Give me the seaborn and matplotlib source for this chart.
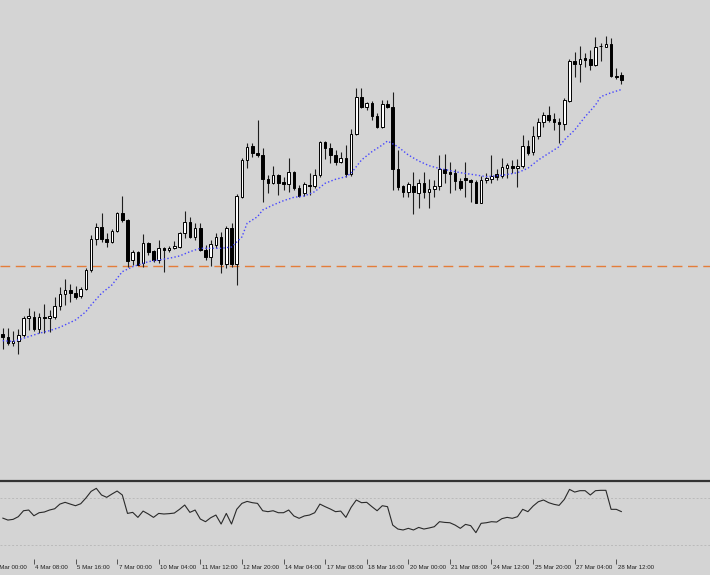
import seaborn as sns
import matplotlib.pyplot as plt
import numpy as np
import pandas as pd
from matplotlib.transforms import ScaledTranslation

# H4 candles, 3 Mar - 28 Mar (price scale is cut off in the original)
opens = [166.0, 163.3, 157.0, 158.5, 164.7, 181.5, 183.3, 170.7, 182.7, 181.5,
         183.0, 194.0, 205.7, 210.0, 206.7, 204.0, 210.7, 230.0, 260.7, 272.7,
         260.7, 257.7, 268.7, 287.3, 280.0, 240.0, 248.3, 237.3, 257.3, 249.0,
         240.0, 251.7, 250.0, 251.7, 253.3, 266.7, 277.7, 263.3, 271.7, 250.0,
         242.7, 255.0, 263.3, 236.0, 271.7, 236.0, 303.3, 340.0, 354.0, 347.3,
         345.0, 320.7, 316.7, 325.0, 318.3, 316.0, 328.3, 311.7, 306.7, 315.0,
         314.0, 325.0, 357.7, 351.7, 345.0, 338.3, 341.7, 325.7, 365.7, 403.3,
         393.3, 396.7, 384.3, 373.0, 396.0, 393.3, 330.7, 313.5, 308.0, 314.0,
         307.3, 317.3, 308.3, 310.7, 314.3, 330.7, 328.3, 326.7, 319.3, 321.7,
         320.0, 318.3, 297.3, 319.7, 320.7, 325.7, 323.5, 331.7, 334.0, 331.7,
         333.7, 354.0, 347.7, 363.7, 378.3, 385.0, 380.7, 378.3, 376.0, 399.3,
         439.3, 435.7, 441.7, 440.7, 435.0, 453.7, 453.3, 456.0, 423.7, 425.0]
highs = [172.0, 172.0, 169.0, 171.0, 183.5, 191.5, 189.0, 186.5, 196.0, 190.0,
         203.3, 213.0, 220.7, 216.0, 214.0, 212.7, 232.0, 265.0, 277.0, 287.0,
         266.7, 271.0, 288.3, 304.0, 280.7, 250.0, 249.0, 265.7, 258.3, 250.0,
         260.0, 253.3, 254.0, 259.3, 268.3, 289.3, 283.3, 276.7, 277.3, 255.0,
         260.0, 267.3, 268.0, 274.0, 276.7, 306.0, 342.0, 356.7, 356.7, 380.0,
         351.7, 325.0, 334.0, 326.0, 323.3, 341.7, 329.0, 315.0, 318.3, 327.3,
         330.7, 359.3, 359.3, 356.7, 350.0, 348.3, 355.0, 370.7, 412.3, 411.7,
         398.3, 399.0, 386.7, 400.0, 400.0, 408.3, 350.0, 315.0, 318.3, 327.7,
         320.7, 327.7, 320.7, 320.0, 345.0, 345.7, 338.3, 330.7, 322.0, 338.3,
         321.0, 320.0, 324.0, 326.7, 345.0, 330.7, 341.7, 336.7, 340.0, 340.7,
         365.0, 360.0, 374.0, 381.7, 388.3, 394.0, 387.3, 381.7, 401.7, 440.7,
         448.3, 454.0, 447.3, 450.0, 462.7, 456.7, 464.0, 462.0, 431.7, 428.3]
lows = [151.0, 155.0, 154.0, 146.0, 163.0, 170.0, 169.0, 167.0, 167.0, 168.0,
        181.0, 190.0, 195.0, 198.3, 201.3, 202.0, 210.0, 228.3, 255.0, 258.3,
        253.3, 256.7, 267.7, 278.3, 232.7, 235.0, 234.7, 232.7, 245.0, 238.3,
        236.7, 228.3, 248.0, 251.0, 251.7, 261.7, 262.0, 260.0, 249.3, 240.0,
        234.0, 251.7, 227.0, 232.0, 233.3, 215.0, 302.0, 331.7, 343.3, 343.0,
        298.3, 307.3, 316.0, 305.0, 310.0, 308.3, 310.0, 302.7, 304.0, 305.0,
        311.7, 323.3, 340.7, 336.7, 335.0, 336.7, 323.3, 324.3, 365.0, 392.0,
        390.0, 380.0, 371.7, 372.0, 392.0, 310.0, 310.0, 303.3, 303.3, 286.0,
        291.7, 301.7, 291.7, 303.3, 310.0, 316.7, 307.3, 310.0, 310.0, 303.3,
        298.3, 296.5, 296.7, 316.7, 316.7, 320.0, 322.0, 322.0, 326.7, 313.0,
        331.7, 345.0, 345.0, 360.7, 373.0, 378.0, 370.0, 356.7, 370.0, 398.3,
        423.3, 418.3, 433.3, 430.0, 434.0, 439.3, 453.0, 423.0, 420.7, 416.0]
closes = [162.7, 157.0, 159.0, 164.7, 181.7, 183.7, 170.7, 182.7, 182.4, 184.0,
          194.0, 205.7, 210.0, 206.7, 203.3, 210.7, 230.0, 260.7, 272.7, 260.7,
          257.7, 268.7, 287.3, 280.0, 239.3, 248.3, 235.0, 257.3, 248.3, 240.0,
          251.7, 250.0, 251.7, 254.0, 266.7, 277.7, 263.3, 271.7, 250.0, 242.7,
          255.7, 263.3, 236.0, 271.7, 236.0, 304.0, 340.0, 353.3, 346.7, 345.0,
          320.7, 316.7, 325.0, 317.3, 316.0, 328.3, 311.7, 304.0, 316.0, 314.3,
          325.0, 357.7, 351.7, 345.0, 338.3, 342.3, 325.7, 365.7, 403.3, 393.3,
          396.7, 384.3, 373.0, 396.0, 393.3, 330.7, 313.3, 308.0, 315.7, 308.0,
          317.3, 307.7, 310.7, 314.3, 330.7, 327.3, 326.0, 319.3, 311.7, 319.7,
          318.3, 297.3, 320.0, 321.7, 324.3, 323.3, 332.7, 334.7, 331.7, 334.3,
          353.7, 347.3, 364.0, 377.7, 385.0, 379.7, 378.3, 376.0, 399.7, 439.3,
          435.7, 440.7, 440.0, 435.0, 452.7, 454.3, 456.0, 424.0, 423.3, 420.0]

# moving average (dotted blue)
ma_bars = [0, 2, 4, 7, 9, 11, 14, 16, 17, 19,
           21, 23, 25, 26, 28, 30, 32, 34, 36, 38,
           42, 44, 46, 47, 49, 50, 52, 54, 56, 58,
           60, 62, 64, 66, 67, 69, 71, 73, 74, 76,
           78, 80, 82, 84, 88, 91, 93, 96, 99, 101,
           103, 105, 107, 108, 110, 112, 114, 115, 117, 119]
ma_values = [159.3, 158.5, 161.7, 166.7, 169.3, 172.7, 180.0, 188.3, 195.0, 206.7,
             215.0, 228.3, 233.3, 235.0, 238.3, 240.0, 241.7, 244.0, 248.3, 251.7,
             251.7, 253.0, 263.0, 276.7, 283.3, 290.0, 295.0, 299.3, 302.7, 304.0,
             308.3, 316.7, 320.7, 323.3, 326.7, 340.0, 348.3, 355.0, 359.0, 353.3,
             345.0, 339.0, 334.3, 331.5, 327.3, 325.0, 323.3, 324.7, 327.3, 331.7,
             340.0, 346.7, 353.3, 360.0, 370.0, 383.3, 395.0, 403.3, 407.3, 410.5]

level = 234.0

# oscillator in the lower window
rsi = [53.1, 51.4, 52.0, 54.3, 59.4, 60.0, 55.1, 57.7, 58.3, 60.0,
       61.1, 65.1, 66.6, 65.1, 63.7, 65.4, 70.3, 76.0, 78.6, 72.9,
       70.9, 73.7, 76.3, 72.9, 57.1, 58.0, 53.7, 59.1, 56.6, 53.7,
       57.1, 56.6, 56.9, 57.4, 60.6, 64.3, 58.0, 60.0, 52.3, 50.0,
       53.4, 55.7, 48.0, 57.1, 48.0, 60.6, 65.7, 67.4, 66.3, 65.7,
       59.4, 58.6, 59.4, 57.7, 57.7, 60.0, 54.9, 52.9, 54.9, 55.7,
       57.7, 65.1, 62.9, 60.9, 58.6, 59.1, 53.7, 62.3, 68.6, 66.3,
       66.6, 62.9, 59.4, 63.7, 62.9, 47.1, 43.7, 42.9, 44.3, 42.9,
       45.1, 43.7, 44.6, 45.7, 50.0, 49.4, 49.1, 47.1, 44.3, 47.7,
       46.6, 40.6, 48.6, 49.1, 50.0, 49.7, 52.6, 53.7, 52.9, 54.3,
       60.6, 58.6, 63.4, 67.1, 68.6, 66.3, 64.9, 64.0, 69.1, 77.7,
       75.4, 76.6, 76.6, 72.9, 76.6, 76.9, 76.9, 60.6, 60.6, 58.6]
rsi_levels = [70, 30]

tick_bars = [-2, 6, 14, 22, 30, 38, 46, 54, 62, 70, 78, 86, 94, 102, 110, 118]
tick_labels = ['3 Mar 00:00', '4 Mar 08:00', '5 Mar 16:00', '7 Mar 00:00',
               '10 Mar 04:00', '11 Mar 12:00', '12 Mar 20:00', '14 Mar 04:00',
               '17 Mar 08:00', '18 Mar 16:00', '20 Mar 00:00', '21 Mar 08:00',
               '24 Mar 12:00', '25 Mar 20:00', '27 Mar 04:00', '28 Mar 12:00']

bg = '#d4d4d4'
sns.set_style("white", rc={"axes.facecolor": bg, "figure.facecolor": bg})
plt.rcParams['font.family'] = ['Liberation Sans', 'DejaVu Sans']

fig = plt.figure(figsize=(7.1, 5.75), dpi=100)
ax = fig.add_axes([0, 0.1670, 1, 0.8330])
ax2 = fig.add_axes([0, 0.0278, 1, 0.1365])

df = pd.DataFrame({'bar': np.arange(len(closes)), 'open': opens, 'high': highs,
                   'low': lows, 'close': closes})
up = df['close'] >= df['open']
body_lo = df[['open', 'close']].min(axis=1)
body_h = (df['close'] - df['open']).abs().clip(lower=0.5)

ax.vlines(df['bar'], df['low'], df['high'], color='#1e1e1e', lw=0.8, zorder=2)
ax.bar(df['bar'][up], body_h[up], bottom=body_lo[up], width=0.5,
       color='white', edgecolor='black', lw=0.7, zorder=3)
ax.bar(df['bar'][~up], body_h[~up], bottom=body_lo[~up], width=0.5,
       color='black', edgecolor='black', lw=0.7, zorder=3)

sns.lineplot(x=ma_bars, y=ma_values, ax=ax, color='#4646ff', lw=1.0,
             linestyle=(0, (1, 1.6)), zorder=4)
ax.axhline(level, color='#e47d3a', lw=1.0, dashes=(7, 4), zorder=1)

ax.set_xlim(-0.52, 136.02)
ax.set_ylim(21, 500)
ax.set_xticks([])
ax.set_yticks([])
ax.set_xlabel('')
ax.set_ylabel('')
for s in ax.spines.values():
    s.set_visible(False)

sns.lineplot(x=df['bar'], y=rsi, ax=ax2, color='#2a2a2a', lw=0.8, zorder=3)
for v in rsi_levels:
    ax2.axhline(v, color='#bababa', lw=0.7, linestyle=(0, (2, 2)), zorder=1)

ax2.set_xlim(-0.52, 136.02)
ax2.set_ylim(18.0, 85.3)
ax2.set_yticks([])
ax2.set_xlabel('')
ax2.set_ylabel('')
for name, s in ax2.spines.items():
    s.set_visible(name == 'top')
ax2.spines['top'].set_color('#333333')
ax2.spines['top'].set_linewidth(1.6)

# time scale: short ticks, labels start just right of each tick
ax2.set_xticks([b for b in tick_bars if b >= -0.52])
ax2.set_xticklabels([])
ax2.tick_params(axis='x', direction='out', length=3.5, width=0.6,
                color='#404040', bottom=True)
trans = ax2.get_xaxis_transform() + ScaledTranslation(1.5 / 100, 0, fig.dpi_scale_trans)
for b, lab in zip(tick_bars, tick_labels):
    ax2.text(b, -0.105, lab, transform=trans, fontsize=4.4, color='#202020',
             ha='left', va='center', clip_on=False)

fig.savefig('out.png', dpi=100, facecolor=bg)
